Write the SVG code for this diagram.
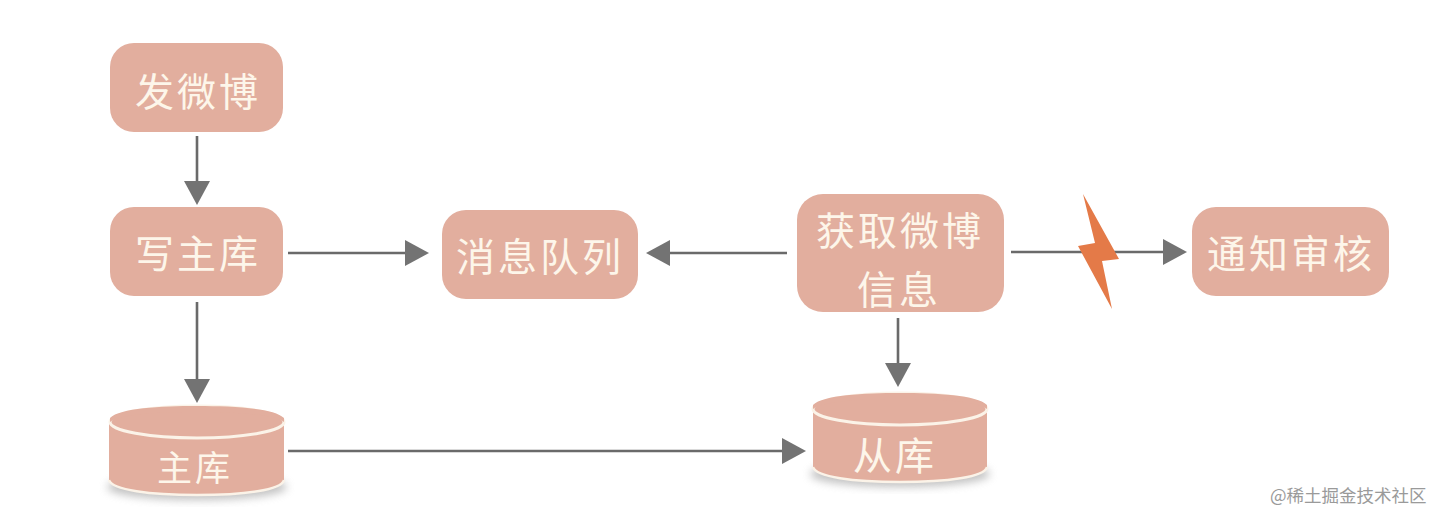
<svg xmlns="http://www.w3.org/2000/svg" width="1446" height="522" viewBox="0 0 1446 522">
<style>
.box{fill:#e2ae9e}
.t{font-family:"Noto Sans CJK SC","Noto Sans",sans-serif;fill:#fdf6ea;font-size:39px;font-weight:400;text-anchor:middle;letter-spacing:3px}
.c{fill:none;stroke:#6a6a6a;stroke-width:2.6}
.cyl{fill:#e2ae9e}
.rim{fill:#e2ae9e;stroke:#fbf3e8;stroke-width:3}
</style>
<defs>
<marker id="a" markerUnits="userSpaceOnUse" markerWidth="28" markerHeight="30" refX="22" refY="15" orient="auto"><path d="M2 2L26 15L2 28Z" fill="#737373"/></marker>
<filter id="s" x="-15%" y="-15%" width="130%" height="140%"><feGaussianBlur stdDeviation="4"/></filter>
</defs>
<rect width="1446" height="522" fill="#fff"/>
<g id="connectors">
<path class="c" marker-end="url(#a)" d="M197 136V201"/>
<path class="c" marker-end="url(#a)" d="M288 253H425"/>
<path class="c" marker-end="url(#a)" d="M197 302V399"/>
<path class="c" marker-end="url(#a)" d="M787 253H650"/>
<path class="c" marker-end="url(#a)" d="M1011 252H1183"/>
<path class="c" marker-end="url(#a)" d="M898 318V383"/>
<path class="c" marker-end="url(#a)" d="M288 451H802"/>
</g>
<g id="bolt"><path d="M1083 194L1119 259L1102 261L1112 309L1078 246L1095 243Z" fill="#e47a48"/></g>
<g id="n-post"><rect class="box" x="110" y="43" width="173" height="89" rx="24"/><text class="t" x="198" y="106">发微博</text></g>
<g id="n-write"><rect class="box" x="110" y="207" width="173" height="89" rx="24"/><text class="t" x="198" y="268">写主库</text></g>
<g id="n-queue"><rect class="box" x="442" y="210" width="196" height="89" rx="24"/><text class="t" x="540" y="271">消息队列</text></g>
<g id="n-fetch"><rect class="box" x="797" y="194" width="207" height="118" rx="26"/><text class="t" x="900" y="245">获取微博</text><text class="t" x="899" y="304">信息</text></g>
<g id="n-notify"><rect class="box" x="1192" y="207" width="197" height="89" rx="24"/><text class="t" x="1291" y="268">通知审核</text></g>
<g id="n-master">
<ellipse cx="197" cy="487" rx="90" ry="13" fill="#999" opacity=".6" filter="url(#s)"/>
<path class="cyl" d="M109 423V480C112 490 150 495 197 495C244 495 282 490 284 480V423Z"/>
<path d="M109 480C112 490 150 495 197 495C244 495 282 490 284 480" fill="none" stroke="#fbf3e8" stroke-width="2.5"/>
<ellipse class="rim" cx="197" cy="422" rx="87" ry="16"/>
<path d="M110 418C120 408 160 406 197 406C234 406 274 408 284 418V422C274 414 234 412 197 412C160 412 120 414 110 422Z" class="cyl"/>
<text class="t" x="195" y="481" style="font-size:35px">主库</text>
</g>
<g id="n-slave">
<ellipse cx="900" cy="474" rx="90" ry="13" fill="#999" opacity=".6" filter="url(#s)"/>
<path class="cyl" d="M813 411V467C816 477 853 482 900 482C947 482 985 477 987 467V411Z"/>
<path d="M813 467C816 477 853 482 900 482C947 482 985 477 987 467" fill="none" stroke="#fbf3e8" stroke-width="2.5"/>
<ellipse class="rim" cx="900" cy="409" rx="87" ry="16"/>
<path d="M813 405C823 395 863 393 900 393C937 393 977 395 987 405V409C977 401 937 399 900 399C863 399 823 401 813 409Z" class="cyl"/>
<text class="t" x="895" y="470">从库</text>
</g>
<text id="watermark" x="1270" y="502" font-family="Noto Sans CJK SC,sans-serif" font-size="17.5" fill="#9a9a9a">@稀土掘金技术社区</text>
</svg>
